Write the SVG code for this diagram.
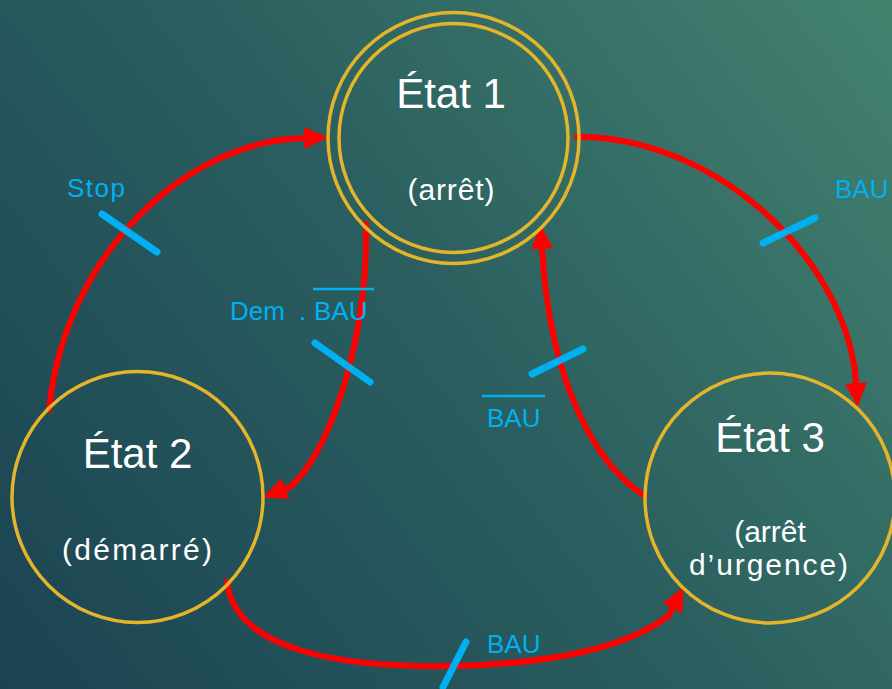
<svg xmlns="http://www.w3.org/2000/svg" width="892" height="689" viewBox="0 0 892 689">
  <defs>
    <linearGradient id="bg" x1="0" y1="689" x2="892" y2="0" gradientUnits="userSpaceOnUse">
      <stop offset="0" stop-color="#1b4352"/>
      <stop offset="0.5" stop-color="#2a5e5f"/>
      <stop offset="1" stop-color="#43826f"/>
    </linearGradient>
    <marker id="arrow" viewBox="0 0 24 22" markerWidth="24" markerHeight="22" refX="1" refY="11" orient="auto" markerUnits="userSpaceOnUse">
      <path d="M0,0 L24,11 L0,22 z" fill="#ff0000"/>
    </marker>
    <style>
      .state { fill: none; stroke: #e4b42b; stroke-width: 3.5; }
      .title { font-family: "Liberation Sans", Arial, sans-serif; font-size: 42px; fill: #ffffff; text-anchor: middle; }
      .sub { font-family: "Liberation Sans", Arial, sans-serif; font-size: 30px; fill: #ffffff; text-anchor: middle; }
      .edge { fill: none; stroke: #ff0000; stroke-width: 6; stroke-linecap: round; marker-end: url(#arrow); }
      .tick { stroke: #00b0f0; stroke-width: 7; stroke-linecap: round; }
      .over { stroke: #00b0f0; stroke-width: 2.5; }
      .lbl { font-family: "Liberation Sans", Arial, sans-serif; font-size: 26px; fill: #00b0f0; }
    </style>
  </defs>

  <rect x="0" y="0" width="892" height="689" fill="url(#bg)"/>

  <g id="connectors">
    <path class="edge" d="M49,410 C65,250 190,140 305,138"/>
    <path class="edge" d="M366,224 C368,330 335,445 291,486.5 L284.5,489"/>
    <path class="edge" d="M645,496 C600,468 550,390 542,248"/>
    <path class="edge" d="M577,137 C700,135 835,240 855,370 L856,384"/>
    <path class="edge" d="M227,582 C235,650 340,668 450,666 C560,664 630,645 669,615.5 L673,607.5"/>

    <line class="tick" x1="102" y1="214" x2="157" y2="252"/>
    <line class="tick" x1="315" y1="343" x2="370" y2="382"/>
    <line class="tick" x1="532" y1="374" x2="583" y2="349"/>
    <line class="tick" x1="763" y1="243" x2="815" y2="218"/>
    <line class="tick" x1="466" y1="642" x2="443" y2="687"/>

    <text class="lbl" x="67" y="197" textLength="58">Stop</text>
    <text class="lbl" y="320"><tspan x="230">Dem</tspan> <tspan x="299">.</tspan> <tspan x="314">BAU</tspan></text>
    <line class="over" x1="313" y1="289" x2="374" y2="289"/>
    <text class="lbl" x="487" y="427">BAU</text>
    <line class="over" x1="482" y1="396" x2="545" y2="396"/>
    <text class="lbl" x="835" y="198">BAU</text>
    <text class="lbl" x="487" y="653">BAU</text>
  </g>

  <g id="etat1">
    <circle class="state" cx="453.5" cy="138" r="125.5"/>
    <circle class="state" cx="453.5" cy="138" r="114.5"/>
    <text class="title" x="451" y="108">État 1</text>
    <text class="sub" x="451" y="200" textLength="87">(arrêt)</text>
  </g>

  <g id="etat2">
    <circle class="state" cx="137.5" cy="497" r="125.5"/>
    <text class="title" x="137.5" y="468">État 2</text>
    <text class="sub" x="137" y="560" textLength="150">(démarré)</text>
  </g>

  <g id="etat3">
    <circle class="state" cx="770" cy="498" r="125"/>
    <text class="title" x="770" y="452">État 3</text>
    <text class="sub" x="770" y="542">(arrêt</text>
    <text class="sub" x="768.5" y="575" textLength="159">d’urgence)</text>
  </g>
</svg>
